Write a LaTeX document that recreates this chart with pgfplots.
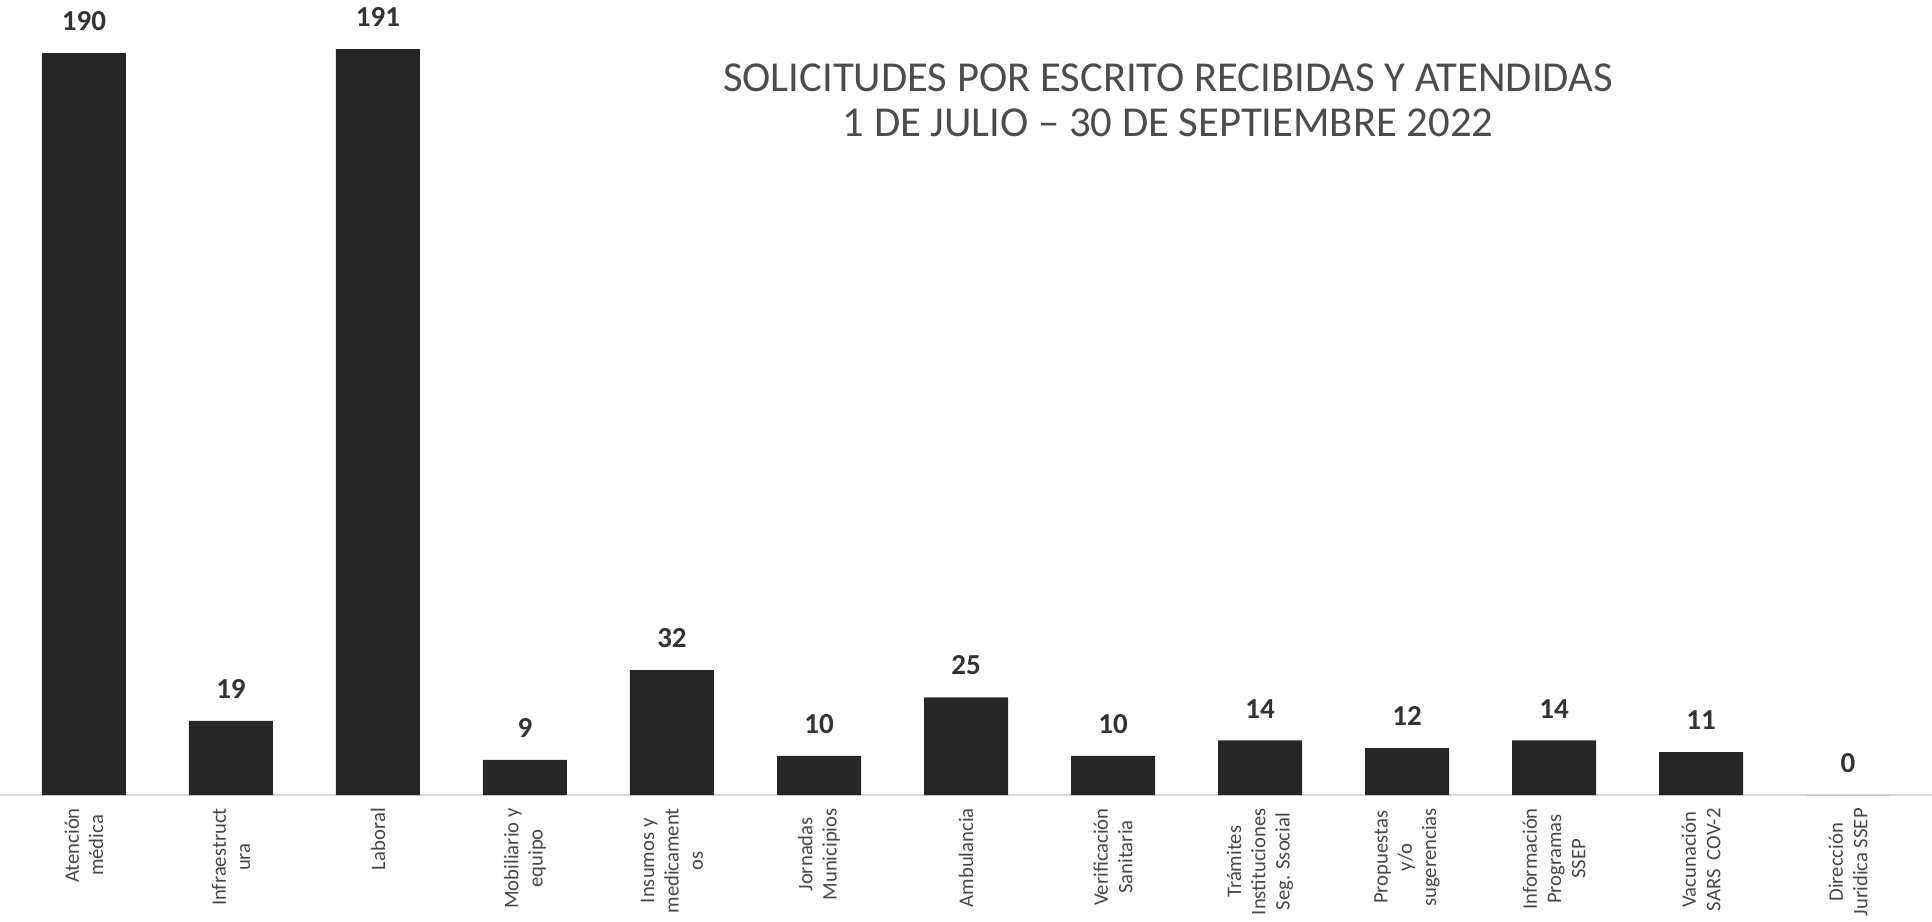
\documentclass[border=0pt]{standalone}
\usepackage{pgfplots}
\pgfplotsset{compat=1.18}
\usepackage{fontspec}
\setmainfont{Carlito}
\begin{document}
\begin{tikzpicture}
\begin{axis}[
  scale only axis, width=579.6pt, height=238.5pt,
  xmin=-0.571, xmax=12.571, ymin=0, ymax=203.6,
  axis x line=bottom, axis y line=none,
  axis line style={draw=gray!30, -},
  ybar, bar width=25.2pt,
  /pgf/number format/assume math mode=true,
  xtick=data, xtick style={draw=none},
  xticklabels={{Atención\\médica},{Infraestruct\\ura},{Laboral},{Mobiliario y\\equipo},{Insumos y\\medicament\\os},{Jornadas\\Municipios},{Ambulancia},{Verificación\\Sanitaria},{Trámites\\Instituciones\\Seg. Ssocial},{Propuestas\\y/o\\sugerencias},{Información\\Programas\\SSEP},{Vacunación\\SARS\ \ COV-2},{Dirección\\Juridica SSEP}},
  xticklabel shift=-0.5pt,
  xticklabel style={rotate=90, anchor=east, align=center, inner sep=0pt, font=\fontsize{6.2}{7.3}\selectfont, text=black!72},
  nodes near coords,
  every node near coord/.append style={font=\bfseries\fontsize{8.7}{10}\selectfont, text=black!80, anchor=south, inner sep=0pt, yshift=6.5pt},
]
\addplot[fill=black!85, draw=none] coordinates {(0,190) (1,19) (2,191) (3,9) (4,32) (5,10) (6,25) (7,10) (8,14) (9,12) (10,14) (11,11) (12,0)};
\end{axis}
\node[font=\fontsize{12.8}{15}\selectfont, text=black!70] at (350.4pt,215.1pt) {SOLICITUDES POR ESCRITO RECIBIDAS Y ATENDIDAS};
\node[font=\fontsize{12.8}{15}\selectfont, text=black!70] at (350.4pt,201.6pt) {1 DE JULIO – 30 DE SEPTIEMBRE 2022};
\pgfresetboundingbox
\path (0,-37.8pt) rectangle (579.6pt,238.5pt);
\end{tikzpicture}
\end{document}
